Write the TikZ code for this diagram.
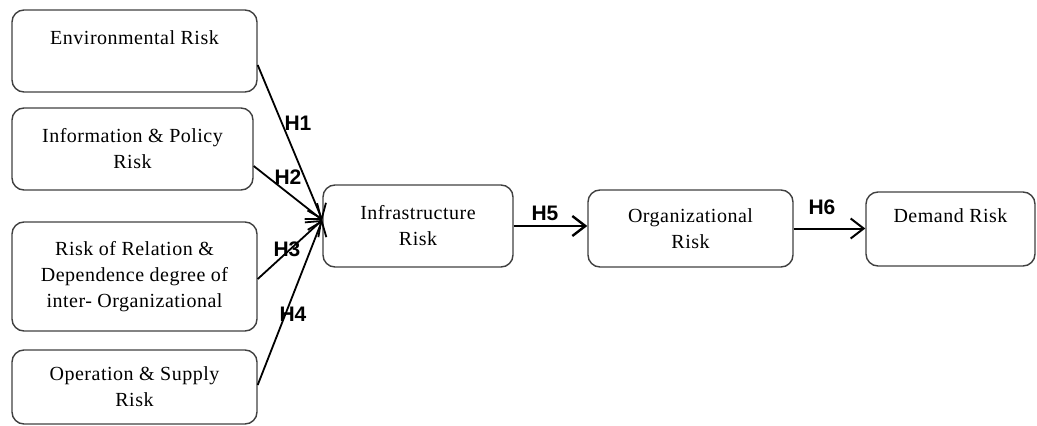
\documentclass[tikz,border=0pt]{standalone}
\usepackage{fontspec}
\setmainfont{Liberation Serif}[LetterSpace=2.5]
\newfontfamily\hfont{Liberation Sans}
\usetikzlibrary{arrows.meta,calc}
\definecolor{boxgray}{HTML}{404040}
\begin{document}
\begin{tikzpicture}[x=1pt,y=-1pt,
  box/.style={draw=boxgray, line width=1.4pt, rounded corners=12pt, align=center,
    font=\fontsize{20}{26}\selectfont, inner sep=0pt},
  hyp/.style={font=\hfont\bfseries\fontsize{21}{21}\selectfont, inner sep=0pt},
  conn/.style={line width=1.8pt, -{Straight Barb[length=13pt,width=20pt]}}]
\useasboundingbox (0,0) rectangle (1037,426);
\node[box, minimum width=245pt, minimum height=82pt] (env) at (134.5,51) {Environmental Risk\\\phantom{Risk}};
\node[box, minimum width=241pt, minimum height=82pt] (info) at (132.5,149) {Information \& Policy\\Risk};
\node[box, minimum width=245pt, minimum height=109pt] (rel) at (134.5,276.5) {Risk of Relation \&\\Dependence degree of\\inter- Organizational};
\node[box, minimum width=245pt, minimum height=74pt] (op) at (134.5,387) {Operation \& Supply\\Risk};
\node[box, minimum width=190pt, minimum height=82pt] (infra) at (418,226) {Infrastructure\\Risk};
\node[box, minimum width=205pt, minimum height=77pt] (org) at (690.5,228.5) {Organizational\\Risk};
\node[box, minimum width=169pt, minimum height=74pt] (dem) at (950.5,229) {Demand Risk\\\phantom{Risk}};
\coordinate (conv) at ([yshift=6pt]infra.west);
\draw[conn] ([yshift=-14pt]env.east) -- (conv);
\draw[conn] ([yshift=-17pt]info.east) -- (conv);
\draw[conn] ([yshift=-2.5pt]rel.east) -- (conv);
\draw[conn] ([yshift=2pt]op.east) -- (conv);
\draw[conn, line width=2.4pt] (infra.east) -- (infra.east -| org.west);
\draw[conn, line width=2pt] (org.east) -- (org.east -| dem.west);
\node[hyp] (h1) at (298,123) {H1};
\node[hyp] (h2) at (288,177) {H2};
\node[hyp] (h3) at (287,249) {H3};
\node[hyp] (h4) at (293,314) {H4};
\node[hyp] (h5) at (545,213) {H5};
\node[hyp] (h6) at (822,207) {H6};
\end{tikzpicture}
\end{document}
